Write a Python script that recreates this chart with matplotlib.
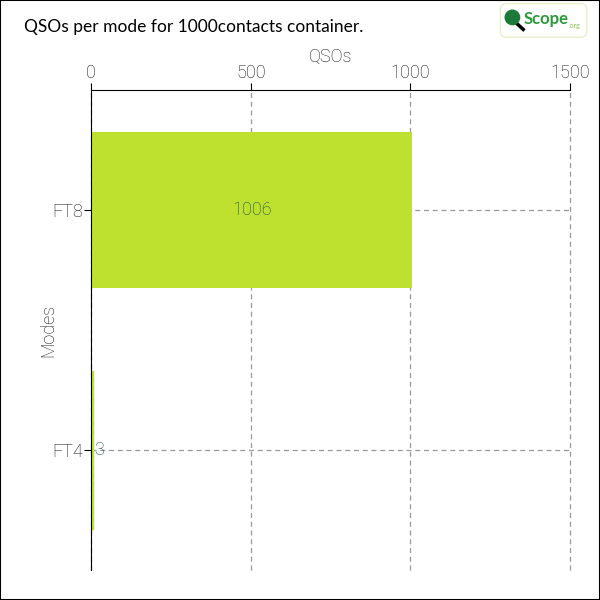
import matplotlib.pyplot as plt
from matplotlib.patches import FancyBboxPatch, Circle
from matplotlib.lines import Line2D

modes = ['FT4', 'FT8']
qsos = [3, 1006]
xticks = [0, 500, 1000, 1500]

bar_color = '#bde12e'
lab_font = ['Roboto', 'DejaVu Sans']
lab_color = '#111111'
lab_weight = 'light'
lab_size = 13

fig = plt.figure(figsize=(6, 6), dpi=100)
ax = fig.add_axes([0.152, 0.05, 0.798, 0.80])

ypos = list(range(len(modes)))
bars = ax.barh(ypos, qsos, height=0.65, color=bar_color, zorder=2)
# tiny bars get a visible minimum width like the original renderer
bars[0].set_edgecolor(bar_color)
bars[0].set_linewidth(2.5)
ax.set_xlim(0, 1500)
ax.set_ylim(-0.5, 1.5)
ax.set_xticks(xticks)
ax.set_yticks(ypos)
ax.set_yticklabels(modes)
ax.xaxis.tick_top()
ax.xaxis.set_label_position('top')
ax.set_xlabel('QSOs', color=lab_color, fontsize=lab_size, family=lab_font, weight=lab_weight, labelpad=1)
ax.set_ylabel('Modes', color=lab_color, fontsize=lab_size, family=lab_font, weight=lab_weight)
ax.yaxis.set_label_coords(-0.071, 0.5)
ax.tick_params(axis='both', labelsize=lab_size, labelcolor=lab_color, color='black', length=5, pad=1)
for lab in ax.get_xticklabels() + ax.get_yticklabels():
    lab.set_family(lab_font)
    lab.set_weight(lab_weight)
ax.grid(True, linestyle=(0, (4, 3)), color='#999999', linewidth=0.9, zorder=0)
for gl in ax.get_xgridlines() + ax.get_ygridlines():
    gl.set_clip_on(False)
for s in ['right', 'bottom']:
    ax.spines[s].set_visible(False)

for b, v in zip(bars, qsos):
    y = b.get_y() + b.get_height() / 2
    if v > 100:
        ax.text(v / 2, y, str(v), ha='center', va='center', color='#1a4a4a', fontsize=lab_size,
                family=lab_font, weight=lab_weight, zorder=3)
    else:
        ax.text(v + 6, y, str(v), ha='left', va='center', color='#1a4a4a', fontsize=lab_size,
                family=lab_font, weight=lab_weight, zorder=3)

fig.text(0.04, 0.955, 'QSOs per mode for 1000contacts container.', fontsize=12.5, family=['Lato', 'DejaVu Sans'],
         va='center', color='black')

# logo
fig.patches.append(FancyBboxPatch((0.836, 0.94), 0.14, 0.052, boxstyle='round,pad=0.002,rounding_size=0.01',
                                  transform=fig.transFigure, facecolor='white', edgecolor='#e8f0c8', linewidth=1))
fig.patches.append(Circle((0.854, 0.971), 0.012, transform=fig.transFigure, color='#1e7a3a', zorder=3))
fig.lines.append(Line2D([0.86, 0.872], [0.962, 0.951], transform=fig.transFigure, color='black', linewidth=2.5))
fig.text(0.872, 0.969, 'Scope', fontsize=12, color='#2a9a3a', weight='bold', va='center', family=['Lato', 'DejaVu Sans'])
fig.text(0.948, 0.957, '.org', fontsize=5, color='#8bc34a', va='center', family=['Lato', 'DejaVu Sans'])

fig.patches.append(plt.Rectangle((0, 0), 1, 1, transform=fig.transFigure, fill=False, edgecolor='black', linewidth=1.5))

fig.savefig('out.png', dpi=100)
